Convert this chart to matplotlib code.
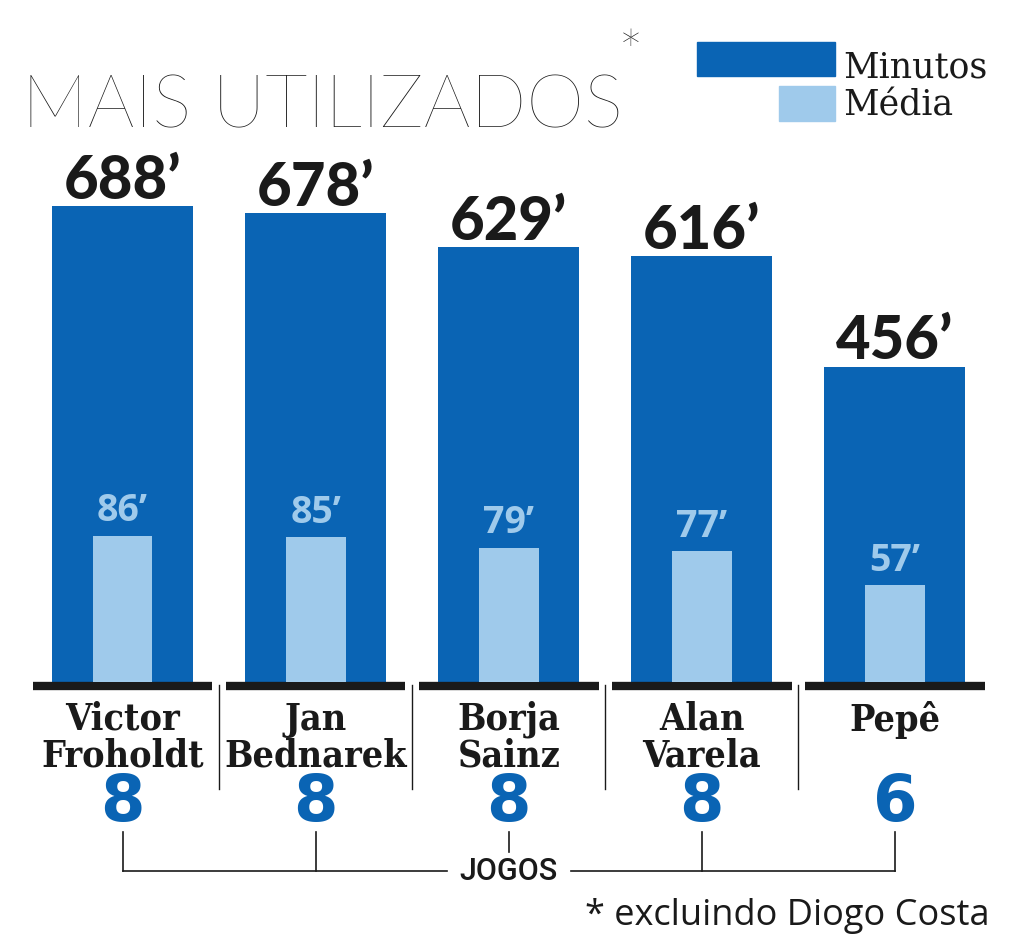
import matplotlib
matplotlib.use("Agg")
import matplotlib.pyplot as plt
from matplotlib.transforms import blended_transform_factory

# dados
jogadores = ["Victor\nFroholdt", "Jan\nBednarek", "Borja\nSainz", "Alan\nVarela", "Pepê"]
minutos = [688, 678, 629, 616, 456]
media = [86, 85, 79, 77, 57]
jogos = [8, 8, 8, 8, 6]

AZUL = "#0a64b4"
AZUL_CLARO = "#9fcaeb"
PRETO = "#1a1a1a"

W, H = 1009, 945


def fy(py):
    # pixel (a partir do topo) -> fração da figura
    return 1 - py / H


fig = plt.figure(figsize=(W / 100, H / 100), dpi=100)
ax = fig.add_axes([26 / W, fy(683), 965.5 / W, (683 - 130) / H])
ax2 = ax.twinx()

x = list(range(len(jogadores)))
ax.bar(x, minutos, width=0.73, color=AZUL, zorder=2)
ax2.bar(x, media, width=0.31, color=AZUL_CLARO, zorder=3)

ax.set_xlim(-0.5, 4.5)
ax.set_ylim(0, 800)
ax2.set_ylim(0, 325)
for a in (ax, ax2):
    a.axis("off")

# valores
for i, v in enumerate(minutos):
    ax.annotate(f"{v}’", (i, v), xytext=(0, 6), textcoords="offset points",
                ha="center", va="baseline", fontsize=43, fontweight=900,
                family=["Lato", "DejaVu Sans"], color=PRETO)
for i, v in enumerate(media):
    ax2.annotate(f"{v}’", (i, v), xytext=(0, 11), textcoords="offset points",
                 ha="center", va="baseline", fontsize=27, fontweight="bold",
                 family=["Open Sans", "DejaVu Sans"], color=AZUL_CLARO)

# linha base preta
ax.hlines([-6] * len(x), [i - 0.465 for i in x], [i + 0.465 for i in x],
          color=PRETO, lw=6, clip_on=False)

tr = blended_transform_factory(ax.transData, fig.transFigure)

# separadores
for i in x[:-1]:
    ax.plot([i + 0.5, i + 0.5], [fy(686), fy(790)], color=PRETO, lw=1,
            transform=tr, clip_on=False)

# nomes
for i, nome in enumerate(jogadores):
    fig.text(i, fy(701), nome, transform=tr, ha="center", va="top",
             fontsize=27, fontweight="bold", linespacing=0.98,
             family=["DejaVu Serif"], fontstretch="condensed", color=PRETO)

# jogos
for i, j in enumerate(jogos):
    fig.text(i, fy(803), str(j), transform=tr, ha="center", va="center",
             fontsize=46, fontweight="bold", family=["DejaVu Sans"], color=AZUL)

# chaveta JOGOS
for i in x:
    fim = fy(853) if i == 2 else fy(872)
    ax.plot([i, i], [fy(833), fim], color=PRETO, lw=1.2, transform=tr, clip_on=False)
ax.plot([0, 1.68], [fy(872), fy(872)], color=PRETO, lw=1.2, transform=tr, clip_on=False)
ax.plot([2.32, 4], [fy(872), fy(872)], color=PRETO, lw=1.2, transform=tr, clip_on=False)
fig.text(2, fy(872), "JOGOS", transform=tr, ha="center", va="center",
         fontsize=22, family=["Roboto", "DejaVu Sans"], fontweight="medium",
         color=PRETO)

# título
fig.text(22 / W, fy(128), "MAIS UTILIZADOS", ha="left", va="baseline",
         fontsize=53, fontweight=100, family=["Lato", "DejaVu Sans"], color=PRETO)
fig.text(618 / W, fy(30), "*", ha="left", va="top", fontsize=44,
         fontweight=100, family=["Lato", "DejaVu Sans"], color=PRETO)

# legenda
fig.patches.append(plt.Rectangle((697 / W, fy(77)), 138 / W, 34 / H,
                                 transform=fig.transFigure, color=AZUL))
fig.patches.append(plt.Rectangle((779 / W, fy(122)), 56 / W, 35 / H,
                                 transform=fig.transFigure, color=AZUL_CLARO))
fig.text(843 / W, fy(77), "Minutos", ha="left", va="baseline", fontsize=25,
         family=["DejaVu Serif"], color=PRETO)
fig.text(843 / W, fy(116), "Média", ha="left", va="baseline", fontsize=25,
         family=["DejaVu Serif"], color=PRETO)

# nota
fig.text(990 / W, fy(925), "* excluindo Diogo Costa", ha="right", va="baseline",
         fontsize=26, family=["Open Sans", "DejaVu Sans"], color=PRETO)

fig.savefig("out.png", dpi=100, facecolor="white")
